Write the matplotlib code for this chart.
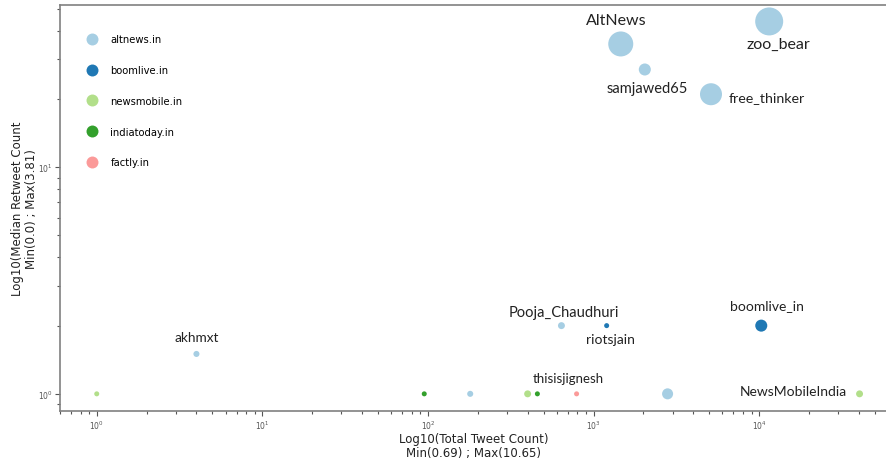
import matplotlib.pyplot as plt
from matplotlib.lines import Line2D

# fact-checker handles: total tweets vs median retweets
domains = ["newsmobile.in", "altnews.in", "indiatoday.in", "altnews.in", "newsmobile.in",
           "indiatoday.in", "factly.in", "altnews.in", "newsmobile.in", "altnews.in",
           "boomlive.in", "boomlive.in", "altnews.in", "altnews.in", "altnews.in", "altnews.in"]
handles = ["", "akhmxt", "", "", "", "thisisjignesh", "", "", "NewsMobileIndia",
           "Pooja_Chaudhuri", "riotsjain", "boomlive_in", "AltNews", "samjawed65",
           "free_thinker", "zoo_bear"]
tweet_count = [1, 4, 95, 180, 400, 458, 790, 2800, 40400, 640, 1200, 10300, 1460, 2040, 5120, 11500]
median_rt = [1, 1.5, 1, 1, 1, 1, 1, 1, 1, 2, 2, 2, 35, 27, 21, 44]
bubble = [13, 19, 13, 19, 25, 13, 13, 63, 25, 25, 13, 75, 324, 75, 251, 406]

legend_domains = ["altnews.in", "boomlive.in", "newsmobile.in", "indiatoday.in", "factly.in"]
palette = {"altnews.in": "#a6cee3", "boomlive.in": "#1f78b4", "newsmobile.in": "#b2df8a",
           "indiatoday.in": "#33a02c", "factly.in": "#fb9a99"}

# label offsets in points and font sizes
label_style = {
    "akhmxt": ((0, 12), 9.8),
    "thisisjignesh": ((22, 11.5), 9.5),
    "NewsMobileIndia": ((-48, 2), 10),
    "Pooja_Chaudhuri": ((1.5, 10), 10.5),
    "riotsjain": ((3, -9.5), 10),
    "boomlive_in": ((4, 14.5), 10),
    "AltNews": ((-3.5, 17), 11.5),
    "samjawed65": ((2, -13), 10.5),
    "free_thinker": ((40, -2), 10.3),
    "zoo_bear": ((6.5, -16.5), 11.5),
}

fig = plt.figure(figsize=(8.87, 4.64), dpi=100)
ax = fig.add_axes([60 / 887, 52 / 464, 828 / 887, 406 / 464])

ax.scatter(tweet_count, median_rt, s=bubble, c=[palette[d] for d in domains],
           linewidths=0, zorder=3)

for x, y, name in zip(tweet_count, median_rt, handles):
    if not name:
        continue
    off, fs = label_style[name]
    ax.annotate(name, (x, y), xytext=off, textcoords="offset points",
                ha="center", va="center", fontsize=fs, family="Lato", color="#222222")

ax.set_xscale("log")
ax.set_yscale("log")
ax.set_xlim(0.6, 6.0e4)
ax.set_ylim(0.84, 52)

ax.set_xlabel("Log10(Total Tweet Count)\nMin(0.69) ; Max(10.65)", fontsize=8.5,
              color="#222222", labelpad=1, linespacing=1.1)
ax.set_ylabel("Log10(Median Retweet Count\nMin(0.0) ; Max(3.81)", fontsize=8.5,
              color="#222222", linespacing=1.1)
ax.yaxis.set_label_coords(-0.027, 0.5)

ax.tick_params(which="both", labelsize=5.5, colors="#555555", width=0.8, pad=2)
ax.tick_params(axis="y", which="both", pad=1.5)
ax.tick_params(which="major", length=3.5)
ax.tick_params(which="minor", length=2)
ax.spines["right"].set_visible(False)
for side in ["left", "top", "bottom"]:
    ax.spines[side].set_color("#808080")
    ax.spines[side].set_linewidth(1.2)

legend_items = [Line2D([], [], marker="o", linestyle="", markersize=8.6,
                       markerfacecolor=palette[d], markeredgewidth=0) for d in legend_domains]
ax.legend(legend_items, legend_domains, loc="upper left", bbox_to_anchor=(0.016, 0.95),
          frameon=False, fontsize=7.2, labelspacing=2.08, handletextpad=0.8)

fig.savefig("out.png", dpi=100)
